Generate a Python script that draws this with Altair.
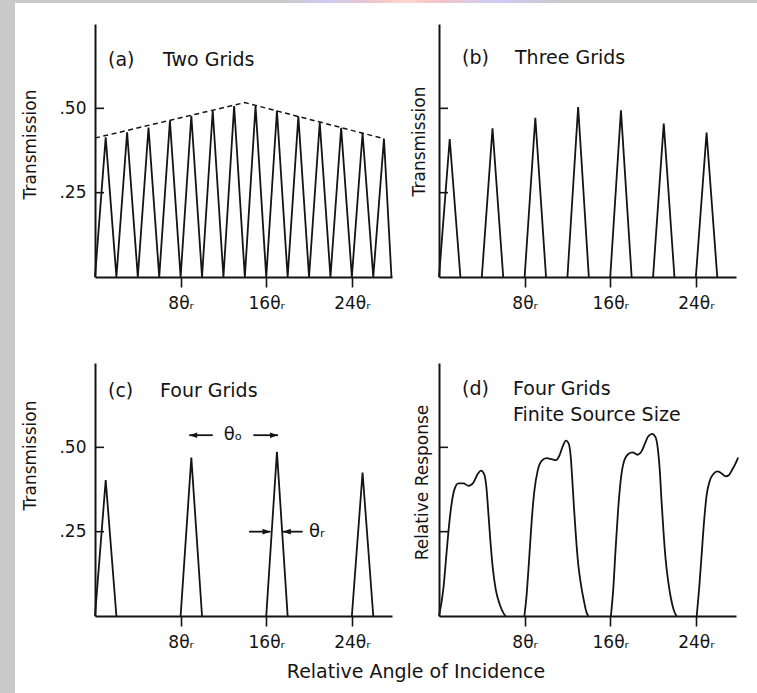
import altair as alt
import pandas as pd

FONT = "DejaVu Sans"
INK = "#141414"

# ---------------- data ----------------
x_tick_values = [8, 16, 24]
x_tick_suffix = "θᵣ"
y_tick_values = [0.25, 0.5]
y_tick_text = [".25", ".50"]

# (a) Two Grids: vertices of the zig-zag transmission
a_x = [0, 1, 2, 3, 4, 5, 6, 7, 8, 9, 10, 11, 12, 13, 14,
       15, 16, 17, 18, 19, 20, 21, 22, 23, 24, 25, 26, 27, 27.7]
a_y = [0, 0.414, 0, 0.429, 0, 0.443, 0, 0.463, 0, 0.478, 0, 0.493, 0, 0.507, 0,
       0.507, 0, 0.493, 0, 0.476, 0, 0.458, 0, 0.442, 0, 0.426, 0, 0.410, 0]
env_x = [0, 14, 27]
env_y = [0.412, 0.517, 0.410]

# (b) Three Grids
b_x = [0, 1, 2, 4, 5, 6, 8, 9, 10, 12, 13, 14, 16, 17, 18, 20, 21, 22, 24, 25, 26]
b_y = [0, 0.409, 0, 0, 0.441, 0, 0, 0.472, 0, 0, 0.504, 0, 0, 0.494, 0,
       0, 0.455, 0, 0, 0.428, 0]
b_g = [1, 1, 1, 2, 2, 2, 3, 3, 3, 4, 4, 4, 5, 5, 5, 6, 6, 6, 7, 7, 7]

# (c) Four Grids
c_x = [0, 1, 2, 8, 9, 10, 16, 17, 18, 24, 25, 26]
c_y = [0, 0.403, 0, 0, 0.470, 0, 0, 0.487, 0, 0, 0.425, 0]
c_g = [1, 1, 1, 2, 2, 2, 3, 3, 3, 4, 4, 4]

# (c) annotations: arrows and symbols
arrow_x1 = [11.0, 14.8, 14.4, 19.4]
arrow_x2 = [8.8, 17.1, 16.4, 17.55]
arrow_y = [0.536, 0.536, 0.25, 0.25]
arrow_dir = ["left", "right", "right", "left"]
theta_o_text = ["θₒ"]
theta_o_x = [12.9]
theta_o_y = [0.536]
theta_r_text = ["θᵣ"]
theta_r_x = [20.0]
theta_r_y = [0.25]

# (d) Four Grids, finite source size
d1_x = [0, 0.42, 0.64, 0.89, 1.13, 1.45, 1.82, 2.29, 2.75, 3.22, 3.62, 3.93, 4.21,
        4.43, 4.62, 4.80, 5.02, 5.30, 5.67, 6.05, 6.23]
d1_y = [0, 0.084, 0.163, 0.253, 0.322, 0.376, 0.393, 0.393, 0.386, 0.396, 0.421,
        0.431, 0.421, 0.381, 0.302, 0.223, 0.144, 0.079, 0.035, 0.007, 0]
d2_x = [7.98, 8.19, 8.41, 8.66, 8.91, 9.22, 9.59, 10.06, 10.53, 10.93, 11.24, 11.55,
        11.86, 12.11, 12.30, 12.45, 12.61, 12.80, 13.01, 13.26, 13.54, 13.79, 13.95]
d2_y = [0, 0.064, 0.163, 0.282, 0.371, 0.431, 0.460, 0.468, 0.465, 0.462, 0.475,
        0.502, 0.520, 0.512, 0.475, 0.406, 0.322, 0.233, 0.153, 0.094, 0.045, 0.010, 0]
d3_x = [16.06, 16.28, 16.49, 16.74, 16.99, 17.30, 17.68, 18.08, 18.55, 18.92, 19.23,
        19.54, 19.92, 20.23, 20.45, 20.63, 20.79, 20.97, 21.16, 21.41, 21.66, 21.94, 22.19]
d3_y = [0, 0.079, 0.193, 0.317, 0.406, 0.460, 0.480, 0.485, 0.478, 0.488, 0.510,
        0.532, 0.540, 0.530, 0.495, 0.431, 0.342, 0.253, 0.173, 0.104, 0.054, 0.017, 0]
d4_x = [24.08, 24.30, 24.52, 24.77, 25.02, 25.30, 25.64, 26.02, 26.38, 26.79, 27.10,
        27.38, 27.69, 27.85, 27.95]
d4_y = [0, 0.079, 0.173, 0.282, 0.361, 0.401, 0.421, 0.429, 0.423, 0.414, 0.418,
        0.433, 0.451, 0.462, 0.470]

panel_tags = ["(a)", "(b)", "(c)", "(d)"]
panel_names = ["Two Grids", "Three Grids", "Four Grids", "Four Grids"]
panel_sub = "Finite Source Size"
y_titles = ["Transmission", "Transmission", "Transmission", "Relative Response"]
x_title = "Relative Angle of Incidence"

# ---------------- frames ----------------
df_a = pd.DataFrame({"x": a_x, "y": a_y})
df_env = pd.DataFrame({"x": env_x, "y": env_y})
df_b = pd.DataFrame({"x": b_x, "y": b_y, "g": b_g})
df_c = pd.DataFrame({"x": c_x, "y": c_y, "g": c_g})
df_arrows = pd.DataFrame({"x": arrow_x2, "x1": arrow_x1, "y": arrow_y, "dir": arrow_dir})
df_to = pd.DataFrame({"x": theta_o_x, "y": theta_o_y, "t": theta_o_text})
df_tr = pd.DataFrame({"x": theta_r_x, "y": theta_r_y, "t": theta_r_text})
df_d = pd.concat([
    pd.DataFrame({"x": d1_x, "y": d1_y, "g": 1}),
    pd.DataFrame({"x": d2_x, "y": d2_y, "g": 2}),
    pd.DataFrame({"x": d3_x, "y": d3_y, "g": 3}),
    pd.DataFrame({"x": d4_x, "y": d4_y, "g": 4}),
], ignore_index=True)
df_ticks = pd.DataFrame({"y": y_tick_values})
one = pd.DataFrame({"k": [0]})

# ---------------- scales / axes ----------------
W, H = 297, 253
XS = alt.Scale(domain=[0, 27.75], nice=False, zero=False)
YS = alt.Scale(domain=[0, 0.75], nice=False, zero=False)

XAXIS = alt.Axis(values=x_tick_values, labelExpr=f"datum.value + '{x_tick_suffix}'",
                 tickSize=10, tickWidth=1.6, labelPadding=8, labelFontSize=17,
                 title=None, grid=False, labelFlush=False, zindex=2)

y_label_expr = (f"datum.value == {y_tick_values[1]} ? '{y_tick_text[1]}' : "
                f"'{y_tick_text[0]}'")


def yaxis(title, tx, ty, show_labels):
    kw = dict(values=y_tick_values, ticks=False, grid=False, title=title,
              titleX=tx, titleY=ty, titleAngle=270, titleAlign="center",
              titleBaseline="middle", titleFontSize=17, titleFontWeight="normal",
              labelPadding=9, labelFontSize=17, labels=show_labels, zindex=2)
    if show_labels:
        kw["labelExpr"] = y_label_expr
    return alt.Axis(**kw)


def X(f="x"):
    return alt.X(f"{f}:Q", scale=XS, axis=XAXIS)


def Y(yax):
    return alt.Y("y:Q", scale=YS, axis=yax)


def tick_layer(yax):
    return alt.Chart(df_ticks).mark_rule(color=INK, strokeWidth=1.6).encode(
        y=Y(yax), x=alt.value(0), x2=alt.value(9))


def text(t, px, py, size=19, align="left", baseline="alphabetic"):
    return alt.Chart(one).mark_text(text=t, font=FONT, fontSize=size, color=INK,
                                    align=align, baseline=baseline).encode(
        x=alt.value(px), y=alt.value(py))


# ---------------- panel (a) ----------------
ya = yaxis(y_titles[0], -65, 120, True)
grad = alt.LinearGradient(gradient="linear", stops=[
    alt.GradientStop(color="#c9c9c9", offset=0),
    alt.GradientStop(color="#cdcaf2", offset=0.17),
    alt.GradientStop(color="#f3c6c8", offset=0.36),
    alt.GradientStop(color="#ffd8cf", offset=0.45),
    alt.GradientStop(color="#f7c2c4", offset=0.56),
    alt.GradientStop(color="#dccbe6", offset=0.68),
    alt.GradientStop(color="#cccaf6", offset=0.79),
    alt.GradientStop(color="#c9c9c9", offset=1),
])
bg_gray = alt.Chart(one).mark_rect(color="#c9c9c9").encode(
    x=alt.value(-95), x2=alt.value(662), y=alt.value(-24), y2=alt.value(669))
bg_white = alt.Chart(one).mark_rect(color="white").encode(
    x=alt.value(-80), x2=alt.value(662), y=alt.value(-21), y2=alt.value(669))
bg_grad = alt.Chart(one).mark_rect(fill=grad).encode(
    x=alt.value(185), x2=alt.value(465), y=alt.value(-24), y2=alt.value(-21))

line_a = alt.Chart(df_a).mark_line(color=INK, strokeWidth=1.8).encode(x=X(), y=Y(ya))
env_a = alt.Chart(df_env).mark_line(color=INK, strokeWidth=1.5,
                                    strokeDash=[5, 3.5]).encode(x=X(), y=Y(ya))
pa = alt.layer(bg_gray, bg_white, bg_grad, line_a, env_a, tick_layer(ya),
               text(panel_tags[0], 13, 42), text(panel_names[0], 68, 42)
               ).properties(width=W, height=H)

# ---------------- panel (b) ----------------
yb = yaxis(y_titles[1], -20, 117, False)
line_b = alt.Chart(df_b).mark_line(color=INK, strokeWidth=1.8).encode(
    x=X(), y=Y(yb), detail="g:N")
pb = alt.layer(line_b, tick_layer(yb),
               text(panel_tags[1], 23, 40), text(panel_names[1], 76, 40)
               ).properties(width=W, height=H)

# ---------------- panel (c) ----------------
yc = yaxis(y_titles[2], -65, 92, True)
line_c = alt.Chart(df_c).mark_line(color=INK, strokeWidth=1.8).encode(
    x=X(), y=Y(yc), detail="g:N")
shafts = alt.Chart(df_arrows).mark_rule(color=INK, strokeWidth=1.8).encode(
    x=X("x1"), x2="x:Q", y=Y(yc))
heads = alt.Chart(df_arrows).mark_point(filled=True, size=64, opacity=1, color=INK,
                                         strokeWidth=0).encode(
    x=X(), y=Y(yc),
    shape=alt.Shape("dir:N", legend=None, scale=alt.Scale(
        domain=["left", "right"],
        range=["M0,0L2,-0.7L2,0.7Z", "M0,0L-2,-0.7L-2,0.7Z"])))
t_o = alt.Chart(df_to).mark_text(font=FONT, fontSize=18, color=INK, align="center",
                                 baseline="middle").encode(x=X(), y=Y(yc), text="t:N")
t_r = alt.Chart(df_tr).mark_text(font=FONT, fontSize=18, color=INK, align="left",
                                 baseline="middle").encode(x=X(), y=Y(yc), text="t:N")
pc = alt.layer(line_c, shafts, heads, t_o, t_r, tick_layer(yc),
               text(panel_tags[2], 13, 34), text(panel_names[2], 65, 34),
               text(x_title, 321, 315, align="center")
               ).properties(width=W, height=H)

# ---------------- panel (d) ----------------
yd = yaxis(y_titles[3], -17, 119, False)
line_d = alt.Chart(df_d).mark_line(color=INK, strokeWidth=1.8,
                                   interpolate="monotone").encode(
    x=X(), y=Y(yd), detail="g:N")
pd_ = alt.layer(line_d, tick_layer(yd),
                text(panel_tags[3], 23, 32), text(panel_names[3], 74, 32),
                text(panel_sub, 74, 58)
                ).properties(width=W, height=H)

chart = alt.concat(pa, pb, pc, pd_, columns=2, spacing={"row": 86, "column": 47},
                   bounds="flush").properties(padding=0, background="white")
chart = chart.configure_view(strokeWidth=0).configure_axis(
    domainColor=INK, domainWidth=2, tickColor=INK, labelColor=INK, titleColor=INK,
    labelFont=FONT, titleFont=FONT)

chart.save("out.html", embed_options={"renderer": "svg", "actions": False})
